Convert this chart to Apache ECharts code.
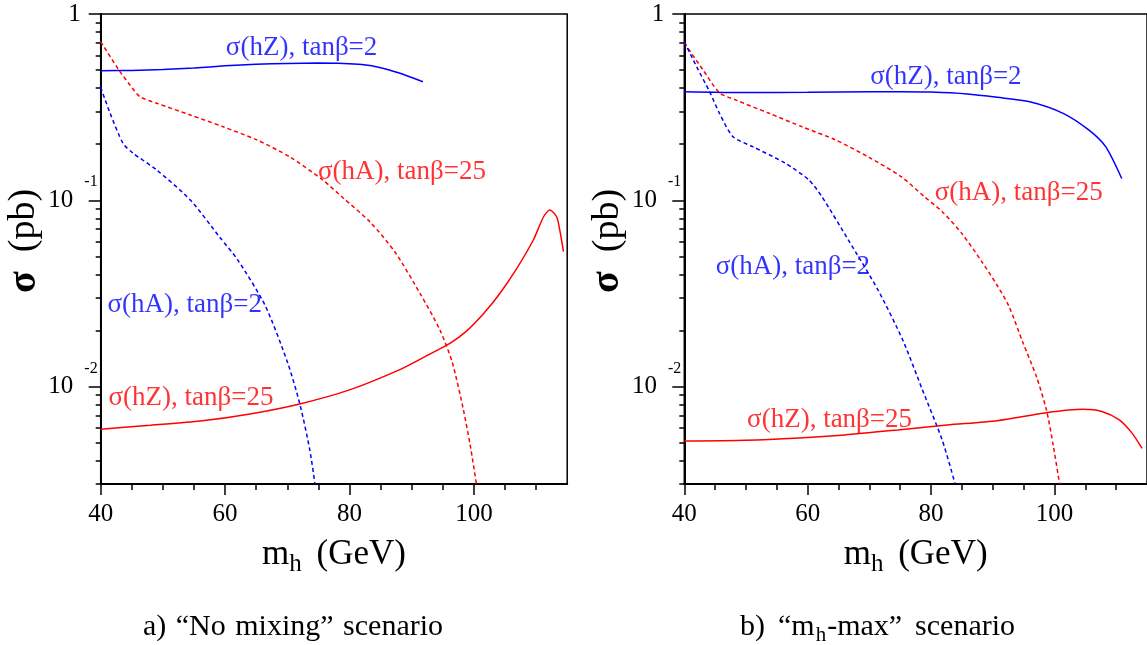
<!DOCTYPE html>
<html><head><meta charset="utf-8">
<script src="https://cdn.jsdelivr.net/npm/echarts@6/dist/echarts.min.js"></script>
<style>html,body{margin:0;padding:0;background:#fff}#c{width:1147px;height:645px}</style>
</head><body><div id="c"></div>
<script>
// ---------- axis definitions ----------
const X_MIN = 40, X_MAX = 115;
const Y_MIN = 0.003, Y_MAX = 1;
const X_MAJOR = [40, 60, 80, 100];
const X_MINOR = [45, 50, 55, 65, 70, 75, 85, 90, 95, 105, 110];
const Y_MAJOR = [1, 0.1, 0.01];
const Y_MINOR = [0.9, 0.8, 0.7, 0.6, 0.5, 0.4, 0.3, 0.2,
                 0.09, 0.08, 0.07, 0.06, 0.05, 0.04, 0.03, 0.02,
                 0.009, 0.008, 0.007, 0.006, 0.005, 0.004, 0.003];
const SERIES_NAMES = ['σ(hZ), tanβ=2', 'σ(hA), tanβ=25', 'σ(hA), tanβ=2', 'σ(hZ), tanβ=25'];
const CAPTIONS = ['a) “No mixing” scenario', 'b) “m_h-max” scenario'];

// ---------- panel a) "No mixing" : [m_h (GeV), sigma (pb)] ----------
const A_hZ_tb2 = [[40,0.496],[45,0.498],[50,0.503],[55,0.513],[60,0.527],[65,0.537],[70,0.543],[75,0.545],[79,0.543],[82,0.535],[85,0.515],[88,0.482],[91.8,0.433]];
const A_hA_tb25 = [[40,0.71],[43,0.496],[44.7,0.416],[46.3,0.36],[49,0.332],[54.4,0.287],[59.7,0.248],[65.1,0.211],[70.4,0.171],[75.7,0.1285],[79,0.1028],[83.3,0.0765],[87.3,0.0528],[91.3,0.0318],[94.55,0.0201],[96.5,0.01355],[98.25,0.00768],[99.4,0.00486],[100.4,0.003]];
const A_hA_tb2 = [[40,0.404],[41.5,0.294],[43.6,0.202],[45.2,0.179],[49,0.1455],[54.4,0.1004],[59.2,0.063],[62,0.048],[66.4,0.0274],[70,0.0136],[72,0.0081],[73.6,0.0046],[74.45,0.003]];
const A_hZ_tb25 = [[40,0.0059],[48,0.0062],[56,0.00653],[64,0.00713],[72,0.00807],[80,0.0096],[88,0.0123],[92,0.0144],[96.2,0.0171],[98.85,0.0199],[101.5,0.0245],[104.2,0.0317],[106.9,0.0431],[109.55,0.0612],[111.2,0.0816],[112.2,0.0887],[113.3,0.0816],[113.8,0.0693],[114.4,0.053]];

// ---------- panel b) "m_h-max" ----------
const B_hZ_tb2 = [[40,0.383],[50,0.379],[60,0.380],[70,0.383],[75,0.383],[80,0.381],[85.9,0.372],[90.7,0.357],[96,0.338],[101.4,0.293],[105.6,0.238],[108.3,0.194],[110.9,0.131]];
const B_hA_tb25 = [[40,0.70],[43.05,0.50],[45.7,0.378],[48.4,0.345],[53.75,0.293],[59.1,0.248],[64.5,0.211],[69.8,0.171],[75.15,0.134],[78.9,0.1046],[81.85,0.0866],[85.06,0.0659],[88.27,0.0466],[90.67,0.0351],[92.6,0.0271],[94.85,0.01736],[97.1,0.01126],[98.7,0.00749],[99.82,0.0048],[100.83,0.003]];
const B_hA_tb2 = [[40,0.71],[42,0.521],[44.1,0.383],[45.7,0.293],[47.9,0.2195],[51.1,0.194],[56.4,0.158],[60.2,0.1285],[62.3,0.1046],[66.6,0.0612],[71.4,0.033],[75.4,0.0178],[78.6,0.0096],[81.8,0.00517],[83.9,0.003]];
const B_hZ_tb25 = [[40,0.0051],[50,0.00515],[58.6,0.0053],[66,0.0055],[74.6,0.00585],[82.6,0.00622],[90.7,0.00656],[98.7,0.00724],[104.6,0.00755],[107.8,0.00733],[110.5,0.00662],[112.6,0.00561],[114.2,0.00466]];

// ---------- text annotation anchors (data coords: m_h, sigma) ----------
const A_LABEL_AT = [[72.3,0.657],[88.45,0.142],[53.5,0.0274],[54.5,0.0087]];
const B_LABEL_AT = [[82.4,0.459],[94.2,0.109],[57.6,0.0439],[63.55,0.0066]];

// ---------- styling ----------
const FONT = "'Liberation Serif','Times New Roman',serif";
const BLUE = '#0000ff', RED = '#ff0000';
const STYLES = [
  {color: BLUE, type: 'solid'},
  {color: RED, type: [4, 3]},
  {color: BLUE, type: [4, 3]},
  {color: RED, type: 'solid'}
];
const lg = v => Math.log10(v);

const GRIDS = [
  {left: 100.7, top: 14, width: 466.5, height: 470},
  {left: 684.3, top: 14, width: 467.3, height: 470}
];

function xAxes(gi) {
  const common = {gridIndex: gi, type: 'value', min: X_MIN, max: X_MAX, position: 'bottom',
    splitLine: {show: false}};
  return [
    Object.assign({}, common, {
      axisLine: {show: true, onZero: false, lineStyle: {color: '#000', width: 2}},
      axisTick: {show: true, customValues: X_MAJOR, length: 11, lineStyle: {color: '#000', width: 1.5}},
      axisLabel: {show: true, customValues: X_MAJOR, margin: 18, color: '#000', fontFamily: FONT, fontSize: 25},
      name: '{m|m}{h|h}{g| (GeV)}', nameLocation: 'middle', nameGap: 46,
      nameTextStyle: {color: '#000', fontFamily: FONT, rich: {
        m: {fontFamily: FONT, fontSize: 35, lineHeight: 35, color: '#000'},
        h: {fontFamily: FONT, fontSize: 25, lineHeight: 25, padding: [20, 0, 0, 0], color: '#000'},
        g: {fontFamily: FONT, fontSize: 35, lineHeight: 35, color: '#000', padding: [0, 0, 0, 6]}
      }}
    }),
    Object.assign({}, common, {
      axisLine: {show: false, onZero: false},
      axisTick: {show: true, customValues: X_MINOR, length: 6, lineStyle: {color: '#000', width: 1.5}},
      axisLabel: {show: false}
    })
  ];
}

function yAxes(gi) {
  const common = {gridIndex: gi, type: 'value', min: lg(Y_MIN), max: lg(Y_MAX), position: 'left',
    splitLine: {show: false}};
  return [
    Object.assign({}, common, {
      axisLine: {show: true, onZero: false, lineStyle: {color: '#000', width: 2}},
      axisTick: {show: true, customValues: Y_MAJOR.map(lg), length: 12, lineStyle: {color: '#000', width: 1.5}},
      axisLabel: {show: true, customValues: Y_MAJOR.map(lg), margin: 3, showMinLabel: true, showMaxLabel: true,
        formatter: v => {
          const e = Math.round(v);
          return e === 0 ? '{one|1}' : '{b|10}{s|' + e + '}';
        },
        rich: {
          one: {fontFamily: FONT, fontSize: 25, lineHeight: 25, color: '#000', padding: [0, 17, 0, 0]},
          b: {fontFamily: FONT, fontSize: 25, lineHeight: 25, color: '#000'},
          s: {fontFamily: FONT, fontSize: 16, lineHeight: 16, color: '#000', padding: [0, 0, 36, 11]}
        }
      },
      name: '{s|σ}{p|  (pb)}', nameLocation: 'middle', nameGap: 55, nameRotate: 90,
      nameTextStyle: {color: '#000', rich: {
        s: {fontFamily: FONT, fontSize: 40, fontWeight: 'bold', color: '#000', padding: [0, 0, 0, 16]},
        p: {fontFamily: FONT, fontSize: 38, color: '#000'}
      }}
    }),
    Object.assign({}, common, {
      axisLine: {show: false, onZero: false},
      axisTick: {show: true, customValues: Y_MINOR.map(lg), length: 5, lineStyle: {color: '#000', width: 1.5}},
      axisLabel: {show: false}
    })
  ];
}

function panelSeries(gi, curves, labelAt) {
  const out = curves.map((pts, i) => ({
    type: 'line', name: SERIES_NAMES[i],
    xAxisIndex: gi * 2, yAxisIndex: gi * 2,
    data: pts.map(p => [p[0], lg(p[1])]),
    showSymbol: false, symbol: 'none', smooth: 0.25,
    lineStyle: {color: STYLES[i].color, type: STYLES[i].type, width: 1.5},
    silent: true
  }));
  out.push({
    type: 'scatter', xAxisIndex: gi * 2, yAxisIndex: gi * 2, silent: true,
    symbol: 'circle', symbolSize: 1, itemStyle: {color: 'rgba(0,0,0,0)'},
    data: labelAt.map((p, i) => ({
      value: [p[0], lg(p[1])],
      label: {show: true, position: 'inside', formatter: SERIES_NAMES[i],
        color: STYLES[i].color, fontFamily: FONT, fontSize: 27}
    }))
  });
  return out;
}

// caption: words separated by spacer tokens, "_x" marks a subscript character
function caption(text) {
  return text.split(' ').map(word => {
    const parts = word.split('_');
    if (parts.length === 1) return '{t|' + word + '}';
    return '{t|' + parts[0] + '}{sub|' + parts[1].charAt(0) + '}{t|' + parts[1].slice(1) + '}';
  }).join('{w| }');
}
function capRich(space) {
  return {
    t: {fontFamily: FONT, fontSize: 30, lineHeight: 30, fontWeight: 'normal', color: '#000'},
    sub: {fontFamily: FONT, fontSize: 21, lineHeight: 21, fontWeight: 'normal', padding: [16, 1, 0, 1], color: '#000'},
    w: {fontFamily: FONT, fontSize: 30, lineHeight: 30, width: space}
  };
}

const chart = echarts.init(document.getElementById('c'), null, {renderer: 'canvas'});
chart.setOption({
  animation: false,
  backgroundColor: '#fff',
  title: [
    {text: caption(CAPTIONS[0]), left: 143, top: 612, padding: 0, textStyle: {fontWeight: 'normal', rich: capRich(9.5)}},
    {text: caption(CAPTIONS[1]), left: 740, top: 612, padding: 0, textStyle: {fontWeight: 'normal', rich: capRich(13)}}
  ],
  grid: GRIDS.map(g => Object.assign({show: true, borderColor: '#000', borderWidth: 1.5, backgroundColor: 'rgba(0,0,0,0)', containLabel: false}, g)),
  xAxis: [...xAxes(0), ...xAxes(1)],
  yAxis: [...yAxes(0), ...yAxes(1)],
  series: [
    ...panelSeries(0, [A_hZ_tb2, A_hA_tb25, A_hA_tb2, A_hZ_tb25], A_LABEL_AT),
    ...panelSeries(1, [B_hZ_tb2, B_hA_tb25, B_hA_tb2, B_hZ_tb25], B_LABEL_AT)
  ]
});
</script>
</body></html>
